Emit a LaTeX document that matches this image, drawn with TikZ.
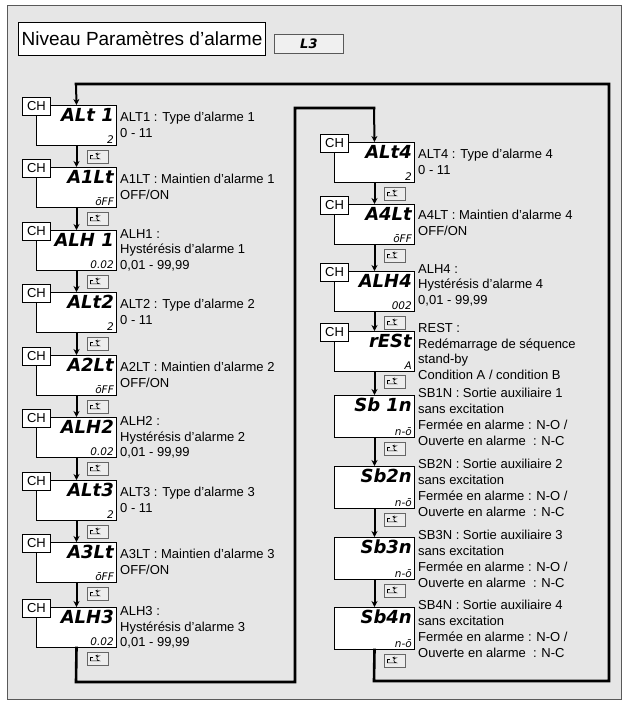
\documentclass[tikz,border=0pt]{standalone}
\usepackage{fontspec}
\setmainfont{Liberation Sans}
\newfontfamily\segf{DejaVu Sans}
\usetikzlibrary{calc,arrows.meta}
\definecolor{bg}{HTML}{E6E6E6}
\tikzset{
 dbox/.style={draw,line width=1pt,fill=white,minimum width=80pt,anchor=north west,inner sep=0pt},
 seg/.style={font=\segf\bfseries\itshape\fontsize{18}{18}\selectfont,inner sep=0pt},
 sub/.style={font=\segf\itshape\fontsize{10.5}{10.5}\selectfont,inner sep=0pt},
 chtag/.style={draw,line width=1pt,fill=white,font=\fontsize{13}{13}\selectfont,minimum width=28pt,minimum height=18pt,inner sep=0pt},
 desc/.style={anchor=north west,align=left,inner sep=0pt,font=\fontsize{13}{15.8}\selectfont},
 keybox/.style={draw=gray!80!black,line width=.6pt,fill=bg!70!white,minimum width=21pt,minimum height=13pt,inner sep=0pt,anchor=north west},
 arr/.style={line width=2pt,-{Stealth[length=6pt,width=6pt]}},
 loop/.style={line width=2.6pt,line join=miter,line cap=rect},
}
\newcommand\disp[6]{%
 \node[dbox,minimum height=#6] (#1) at (#2,#3) {};
 \node[seg,anchor=north east] (#1s) at ($(#1.north east)+(-3,3)$) {#4};
 \node[sub,anchor=south east] (#1b) at ($(#1.south east)+(-3,-2)$) {#5};}
\newcommand\chtag[1]{\node[chtag,anchor=north west] (#1ch) at ($(#1.north west)+(-14,-8)$) {CH};}
\newcommand\keyic[2]{%
 \node[keybox] (#1) at (#2) {};
 \draw[line width=.6pt,-{Stealth[length=2.5pt,width=2.5pt]}] ($(#1.center)+(-7,2)$) -- ++(9,0) arc[start angle=-90,end angle=90,radius=-2.5] -- ++(-4,0);
 \draw[line width=.6pt] ($(#1.center)+(-7,2)$) -- ++(0,-4) -- ++(3,0);}
\begin{document}
\begin{tikzpicture}[x=1pt,y=-1pt]
\useasboundingbox (0,0) rectangle (626,704);
\draw[gray!70!black,line width=1pt,fill=bg] (7,5) rectangle (621,699);
\node[draw,line width=1pt,fill=white,minimum width=247pt,minimum height=33pt,anchor=north west,font=\fontsize{19}{19}\selectfont,inner sep=0pt] (title) at (18,22) {Niveau Paramètres d'alarme};
\node[draw,gray!70!black,line width=.8pt,fill=bg!60!white,minimum width=69pt,minimum height=19pt,anchor=north west,inner sep=0pt] (l3box) at (274,34) {};
\node[seg,font=\segf\bfseries\itshape\fontsize{13}{13}\selectfont] (l3) at (l3box.center) {L3};
% left column
\disp{a}{36}{105}{ALt 1}{2}{40pt}\chtag{a}
\disp{b}{36}{167}{A1Lt}{ōFF}{40pt}\chtag{b}
\disp{c}{36}{230}{ALH 1}{0.02}{40pt}\chtag{c}
\disp{d}{36}{292}{ALt2}{2}{40pt}\chtag{d}
\disp{e}{36}{355}{A2Lt}{ōFF}{40pt}\chtag{e}
\disp{f}{36}{417}{ALH2}{0.02}{40pt}\chtag{f}
\disp{g}{36}{480}{ALt3}{2}{40pt}\chtag{g}
\disp{h}{36}{542}{A3Lt}{ōFF}{40pt}\chtag{h}
\disp{i}{36}{607}{ALH3}{0.02}{40pt}\chtag{i}
\node[desc] (at) at (120,112) {ALT1 : Type d'alarme 1\\0 - 11};
\node[desc] (bt) at (120,174) {A1LT : Maintien d'alarme 1\\OFF/ON};
\node[desc] (ct) at (120,229) {ALH1 :\\Hystérésis d'alarme 1\\0,01 - 99,99};
\node[desc] (dt) at (120,299) {ALT2 : Type d'alarme 2\\0 - 11};
\node[desc] (et) at (120,362) {A2LT : Maintien d'alarme 2\\OFF/ON};
\node[desc] (ft) at (120,416) {ALH2 :\\Hystérésis d'alarme 2\\0,01 - 99,99};
\node[desc] (gt) at (120,487) {ALT3 : Type d'alarme 3\\0 - 11};
\node[desc] (ht) at (120,549) {A3LT : Maintien d'alarme 3\\OFF/ON};
\node[desc] (it) at (120,606) {ALH3 :\\Hystérésis d'alarme 3\\0,01 - 99,99};
\foreach \p/\q in {a/b,b/c,c/d,d/e,e/f,f/g,g/h,h/i}{
 \draw[arr] (\p.south) -- (\q.north);
 \keyic{k\p}{$(\p.south)+(10,4)$}
}
\keyic{ki}{$(i.south)+(10,4)$}
% right column
\disp{j}{334}{142}{ALt4}{2}{40pt}\chtag{j}
\disp{k}{334}{204}{A4Lt}{ōFF}{40pt}\chtag{k}
\disp{l}{334}{271}{ALH4}{002}{40pt}\chtag{l}
\disp{m}{334}{331}{rESt}{A}{40pt}\chtag{m}
\disp{n}{334}{395}{Sb 1n}{n-ō}{42pt}
\disp{o}{334}{466}{Sb2n}{n-ō}{42pt}
\disp{p}{334}{537}{Sb3n}{n-ō}{42pt}
\disp{q}{334}{607}{Sb4n}{n-ō}{42pt}
\node[desc] (jt) at (418,149) {ALT4 : Type d'alarme 4\\0 - 11};
\node[desc] (kt) at (418,210) {A4LT : Maintien d'alarme 4\\OFF/ON};
\node[desc] (lt) at (418,264) {ALH4 :\\Hystérésis d'alarme 4\\0,01 - 99,99};
\node[desc] (mt) at (418,323) {REST :\\Redémarrage de séquence\\stand-by\\Condition A / condition B};
\node[desc] (nt) at (418,388) {SB1N : Sortie auxiliaire 1\\sans excitation\\Fermée en alarme : N-O /\\Ouverte en alarme~ : N-C};
\node[desc] (ot) at (418,459) {SB2N : Sortie auxiliaire 2\\sans excitation\\Fermée en alarme : N-O /\\Ouverte en alarme~ : N-C};
\node[desc] (pt) at (418,530) {SB3N : Sortie auxiliaire 3\\sans excitation\\Fermée en alarme : N-O /\\Ouverte en alarme~ : N-C};
\node[desc] (qt) at (418,600) {SB4N : Sortie auxiliaire 4\\sans excitation\\Fermée en alarme : N-O /\\Ouverte en alarme~ : N-C};
\foreach \p/\q in {j/k,k/l,l/m,n/o,o/p,p/q}{
 \draw[arr] (\p.south) -- (\q.north);
 \keyic{k\p}{$(\p.south)+(9,4)$}
}
\draw[arr] (m.south) -- (n.north);
\keyic{km}{$(m.south)+(9,3)$}
\keyic{kq}{$(q.south)+(9,4)$}
% loops
\coordinate (c1) at (76,682);
\coordinate (c2) at (295,682);
\coordinate (c3) at (295,108);
\coordinate (c4) at (374,108);
\draw[loop] (i.south) -- (c1) -- (c2) -- (c3) -- (c4);
\draw[arr] (c4) -- (j.north);
\coordinate (d1) at (374,681);
\coordinate (d2) at (609,681);
\coordinate (d3) at (609,84);
\coordinate (d4) at (76,84);
\draw[loop] (q.south) -- (d1) -- (d2) -- (d3) -- (d4);
\draw[arr] (d4) -- (a.north);
\end{tikzpicture}
\end{document}
